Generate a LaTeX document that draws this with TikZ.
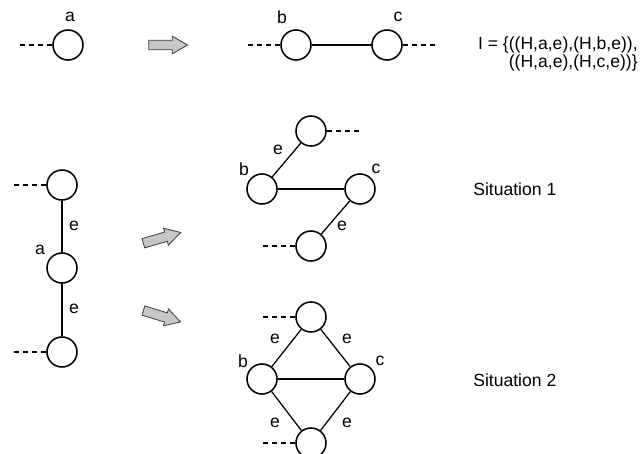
\documentclass[tikz,border=0pt]{standalone}
\usepackage{fontspec}
\setmainfont{Liberation Sans}
\usetikzlibrary{positioning,shapes.arrows}
\tikzstyle{Vertex} = [circle, draw, line width=1.1pt, minimum size=0.75cm, inner sep=0pt]
\tikzstyle{link} = [line width=0.9pt]
\tikzstyle{stub} = [line width=0.9pt, dash pattern=on 3.5pt off 3pt]
\tikzstyle{Lbl} = [inner sep=0pt]
\tikzstyle{BigArrow} = [single arrow, draw=black!75, fill=black!22, line width=0.6pt,
    minimum height=0.97cm, inner xsep=0pt, inner ysep=0.11cm,
    single arrow head extend=0.1cm, single arrow tip angle=60]

\begin{document}
\begin{tikzpicture}[x=0.025cm, y=-0.025cm, font=\fontsize{12.5pt}{13pt}\selectfont]
    \useasboundingbox (0,0) rectangle (640,454);
    % first row
    \node[Vertex] (A) at (68,45) {}; %vertex a
    \coordinate (AStub) at (20,45);
    \draw[stub] (A) -- (AStub);
    \node[Lbl] (LabA) at (70,17) {a};
    \node[BigArrow] (Step) at (164,45) {};
    \node[Vertex] (B) at (296,45) {}; %vertex b
    \node[Vertex] (C) at (387,45) {}; %vertex c
    \coordinate (BStub) at (247,45);
    \coordinate (CStub) at (436,45);
    \draw[link] (B) -- (C);
    \draw[stub] (B) -- (BStub);
    \draw[stub] (C) -- (CStub);
    \node[Lbl] (LabB) at (282,17) {b};
    \node[Lbl] (LabC) at (398,17) {c};
    \node[Lbl, align=right, anchor=east] (Inst) at (638,54) {I = \{((H,a,e),(H,b,e)),\\((H,a,e),(H,c,e))\}};
    % chain through a
    \node[Vertex] (Up) at (62,185) {};
    \node[Vertex] (Mid) at (62,268) {}; %vertex a
    \node[Vertex] (Low) at (62,352) {};
    \coordinate (UpStub) at (13,185);
    \coordinate (LowStub) at (13,352);
    \draw[link] (Up) -- (Mid);
    \draw[link] (Mid) -- (Low);
    \draw[stub] (Up) -- (UpStub);
    \draw[stub] (Low) -- (LowStub);
    \node[Lbl] (LabE1) at (74,226) {e};
    \node[Lbl] (LabE2) at (74,309) {e};
    \node[Lbl] (LabMid) at (40,250) {a};
    \node[BigArrow, rotate=16] (StepUp) at (158,239) {};
    \node[BigArrow, rotate=-17] (StepDown) at (158,315) {};
    % situation 1
    \node[Vertex] (TopOne) at (311,131) {};
    \node[Vertex] (BOne) at (262,189) {}; %vertex b
    \node[Vertex] (COne) at (360,189) {}; %vertex c
    \node[Vertex] (BotOne) at (311,246) {};
    \coordinate (TopOneStub) at (360,131);
    \coordinate (BotOneStub) at (262,246);
    \draw[link] (TopOne) -- (BOne);
    \draw[link] (BOne) -- (COne);
    \draw[link] (COne) -- (BotOne);
    \draw[stub] (TopOne) -- (TopOneStub);
    \draw[stub] (BotOne) -- (BotOneStub);
    \node[Lbl] (LabOneE1) at (278,150) {e};
    \node[Lbl] (LabOneB) at (244,169) {b};
    \node[Lbl] (LabOneC) at (376,169) {c};
    \node[Lbl] (LabOneE2) at (342,226) {e};
    \node[Lbl, anchor=west] (SitOne) at (473,189) {Situation 1};
    % situation 2
    \node[Vertex] (TopTwo) at (311,317) {};
    \node[Vertex] (BTwo) at (262,379) {}; %vertex b
    \node[Vertex] (CTwo) at (360,379) {}; %vertex c
    \node[Vertex] (BotTwo) at (311,443) {};
    \coordinate (TopTwoStub) at (262,317);
    \coordinate (BotTwoStub) at (262,443);
    \draw[link] (TopTwo) -- (BTwo);
    \draw[link] (TopTwo) -- (CTwo);
    \draw[link] (BTwo) -- (CTwo);
    \draw[link] (BTwo) -- (BotTwo);
    \draw[link] (CTwo) -- (BotTwo);
    \draw[stub] (TopTwo) -- (TopTwoStub);
    \draw[stub] (BotTwo) -- (BotTwoStub);
    \node[Lbl] (LabTwoE1) at (275,339) {e};
    \node[Lbl] (LabTwoE2) at (347,339) {e};
    \node[Lbl] (LabTwoB) at (243,361) {b};
    \node[Lbl] (LabTwoC) at (380,361) {c};
    \node[Lbl] (LabTwoE3) at (275,423) {e};
    \node[Lbl] (LabTwoE4) at (347,423) {e};
    \node[Lbl, anchor=west] (SitTwo) at (473,380) {Situation 2};
\end{tikzpicture}
\end{document}
